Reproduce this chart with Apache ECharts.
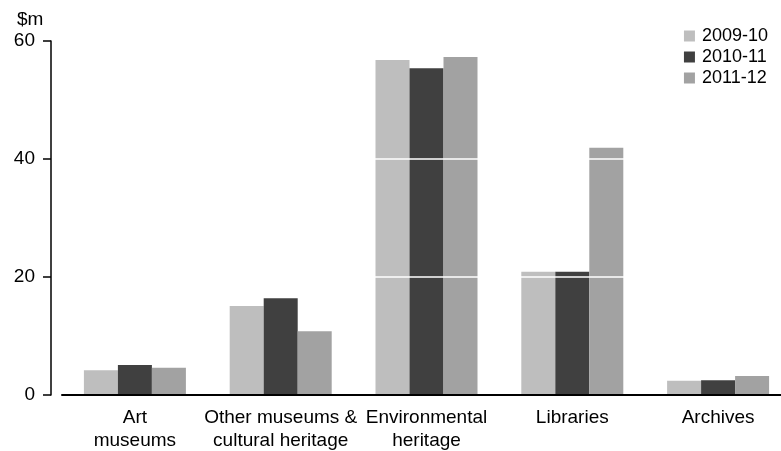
<!DOCTYPE html>
<html><head><meta charset="utf-8">
<script src="https://cdn.jsdelivr.net/npm/echarts@6/dist/echarts.min.js"></script>
<style>html,body{margin:0;padding:0;background:#fff}#c{width:781px;height:451px}</style>
</head><body><div id="c"></div>
<script>
const categories = ['Art\nmuseums', 'Other museums &\ncultural heritage', 'Environmental\nheritage', 'Libraries', 'Archives'];
const seriesNames = ['2009-10', '2010-11', '2011-12'];
const values2009 = [4.2, 15.1, 56.8, 20.9, 2.4];
const values2010 = [5.1, 16.4, 55.4, 20.9, 2.5];
const values2011 = [4.6, 10.8, 57.3, 41.9, 3.2];
const yTicks = [0, 20, 40, 60];
const colors = ['#bebebe', '#404040', '#a2a2a2'];

const font = '"Liberation Sans", Arial, sans-serif';
const fs = 19;
const chart = echarts.init(document.getElementById('c'));
const data = [values2009, values2010, values2011];
chart.setOption({
  animation: false,
  textStyle: { fontFamily: font, color: '#000' },
  title: { text: '$m', left: 12, top: 5, textStyle: { fontFamily: font, fontSize: fs, fontWeight: 'normal', color: '#000' } },
  legend: {
    orient: 'vertical', right: 8, top: 22, itemWidth: 11, itemHeight: 11, itemGap: 3, z: 30,
    icon: 'rect', textStyle: { fontFamily: font, fontSize: 18, color: '#000', padding: [0, 0, 0, 2] },
    data: seriesNames
  },
  grid: { left: 62, right: -10, top: 41, bottom: 56, containLabel: false, outerBoundsMode: 'none' },
  xAxis: {
    type: 'category', data: categories, z: 12,
    axisLine: { lineStyle: { color: '#000', width: 2 } },
    axisTick: { alignWithLabel: true, length: 8, lineStyle: { color: '#000', width: 2 } },
    axisLabel: { fontFamily: font, fontSize: fs, color: '#000', lineHeight: 23, margin: 11, interval: 0 }
  },
  yAxis: {
    type: 'value', min: yTicks[0], max: yTicks[yTicks.length - 1], interval: 20, offset: 11, z: 10,
    axisLine: { show: true, lineStyle: { color: '#000', width: 1.5 } },
    axisTick: { show: true, length: 8, lineStyle: { color: '#000', width: 1.5 } },
    axisLabel: { fontFamily: font, fontSize: fs, color: '#000', margin: 16 },
    splitLine: { show: true, lineStyle: { color: '#ffffff', width: 1.5 } }
  },
  series: seriesNames.map((n, i) => ({
    name: n, type: 'bar', data: data[i], barWidth: 34, barGap: '0%',
    itemStyle: { color: colors[i] }
  }))
});
</script></body></html>
